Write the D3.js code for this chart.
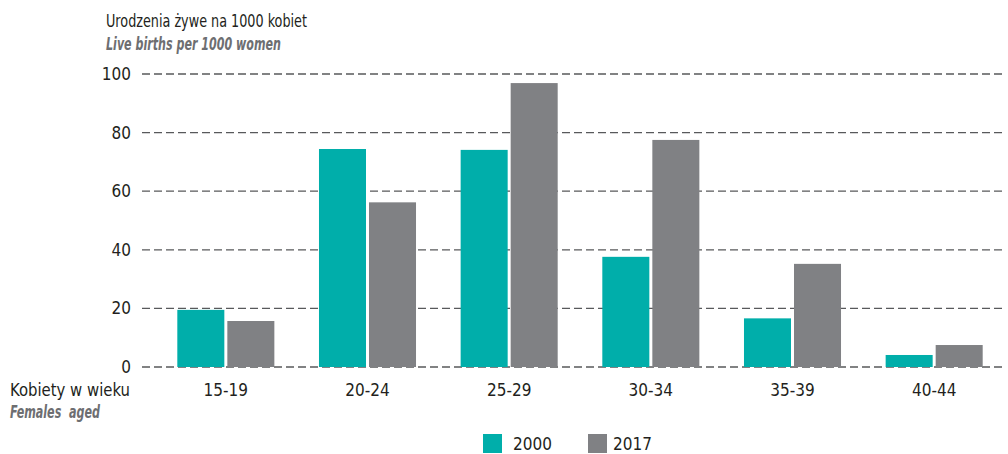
<!DOCTYPE html>
<html>
<head>
<meta charset="utf-8">
<script src="https://cdn.jsdelivr.net/npm/d3@7"></script>
<style>
  body { margin: 0; background: #fff; }
  svg text { font-family: "Liberation Sans Narrow", "DejaVu Sans Condensed", "Arial Narrow", sans-serif; white-space: pre; }
</style>
</head>
<body>
<svg id="chart" width="1008" height="454"></svg>
<script>
// dane
var ageGroups = ["15-19", "20-24", "25-29", "30-34", "35-39", "40-44"];
var years = ["2000", "2017"];
var values2000 = [19.5, 74.4, 74.1, 37.6, 16.6, 4.1];
var values2017 = [15.7, 56.2, 96.9, 77.5, 35.2, 7.5];
var yTicks = [0, 20, 40, 60, 80, 100];
var colors = ["#00aeaa", "#808184"];

var svg = d3.select("#chart");

var x = d3.scaleBand()
    .domain(ageGroups)
    .range([155, 1005])
    .paddingInner(0.315)
    .paddingOuter(0.1575);

var xSub = d3.scaleBand()
    .domain(years)
    .range([0, x.bandwidth()])
    .paddingInner(0.06);

var y = d3.scaleLinear()
    .domain([0, 100])
    .range([367, 74]);

// siatka
svg.append("g").selectAll("line")
    .data(yTicks)
    .enter()
    .append("line")
    .attr("x1", 142)
    .attr("x2", 1005)
    .attr("y1", function(d) { return y(d); })
    .attr("y2", function(d) { return y(d); })
    .attr("stroke", "#58595b")
    .attr("stroke-width", 1.3)
    .attr("stroke-dasharray", "8,4");

svg.append("g").selectAll("text")
    .data(yTicks)
    .enter()
    .append("text")
    .attr("x", 131)
    .attr("y", function(d) { return y(d) + 6; })
    .attr("text-anchor", "end")
    .attr("font-size", 17)
    .attr("fill", "#231f20")
    .text(function(d) { return d; });

// słupki
var rows = ageGroups.map(function(g, i) {
    return { group: g, vals: [values2000[i], values2017[i]] };
});

var groups = svg.append("g").selectAll("g")
    .data(rows)
    .enter()
    .append("g")
    .attr("transform", function(d) { return "translate(" + x(d.group) + ",0)"; });

groups.selectAll("rect")
    .data(function(d) { return d.vals.map(function(v, j) { return { year: years[j], v: v, c: colors[j] }; }); })
    .enter()
    .append("rect")
    .attr("x", function(d) { return xSub(d.year); })
    .attr("width", xSub.bandwidth())
    .attr("y", function(d) { return y(d.v); })
    .attr("height", function(d) { return y(0) - y(d.v); })
    .attr("fill", function(d) { return d.c; });

// etykiety osi x
svg.append("g").selectAll("text")
    .data(ageGroups)
    .enter()
    .append("text")
    .attr("x", function(d) { return x(d) + x.bandwidth() / 2; })
    .attr("y", 396)
    .attr("text-anchor", "middle")
    .attr("font-size", 17)
    .attr("fill", "#231f20")
    .text(function(d) { return d; });

svg.append("text")
    .attr("x", 10).attr("y", 396)
    .attr("font-size", 18).attr("fill", "#231f20")
    .attr("textLength", 120).attr("lengthAdjust", "spacingAndGlyphs")
    .text("Kobiety w wieku");
svg.append("text")
    .attr("x", 10).attr("y", 418)
    .attr("font-size", 18).attr("fill", "#6d6e71")
    .attr("font-style", "italic").attr("font-weight", "bold")
    .attr("textLength", 90).attr("lengthAdjust", "spacingAndGlyphs")
    .text("Females  aged");

// tytuł osi y
svg.append("text")
    .attr("x", 106).attr("y", 27)
    .attr("font-size", 18).attr("fill", "#231f20")
    .attr("textLength", 201).attr("lengthAdjust", "spacingAndGlyphs")
    .text("Urodzenia żywe na 1000 kobiet");
svg.append("text")
    .attr("x", 106).attr("y", 50)
    .attr("font-size", 18).attr("fill", "#6d6e71")
    .attr("font-style", "italic").attr("font-weight", "bold")
    .attr("textLength", 175).attr("lengthAdjust", "spacingAndGlyphs")
    .text("Live births per 1000 women");

// legenda
var legendX = [483, 588];
var legend = svg.append("g").selectAll("g")
    .data(years)
    .enter()
    .append("g")
    .attr("transform", function(d, i) { return "translate(" + legendX[i] + ",434)"; });
legend.append("rect")
    .attr("width", 19).attr("height", 19)
    .attr("fill", function(d, i) { return colors[i]; });
legend.append("text")
    .attr("x", function(d, i) { return i == 0 ? 30 : 25; })
    .attr("y", 16)
    .attr("font-size", 17).attr("fill", "#231f20")
    .text(function(d) { return d; });
</script>
</body>
</html>
